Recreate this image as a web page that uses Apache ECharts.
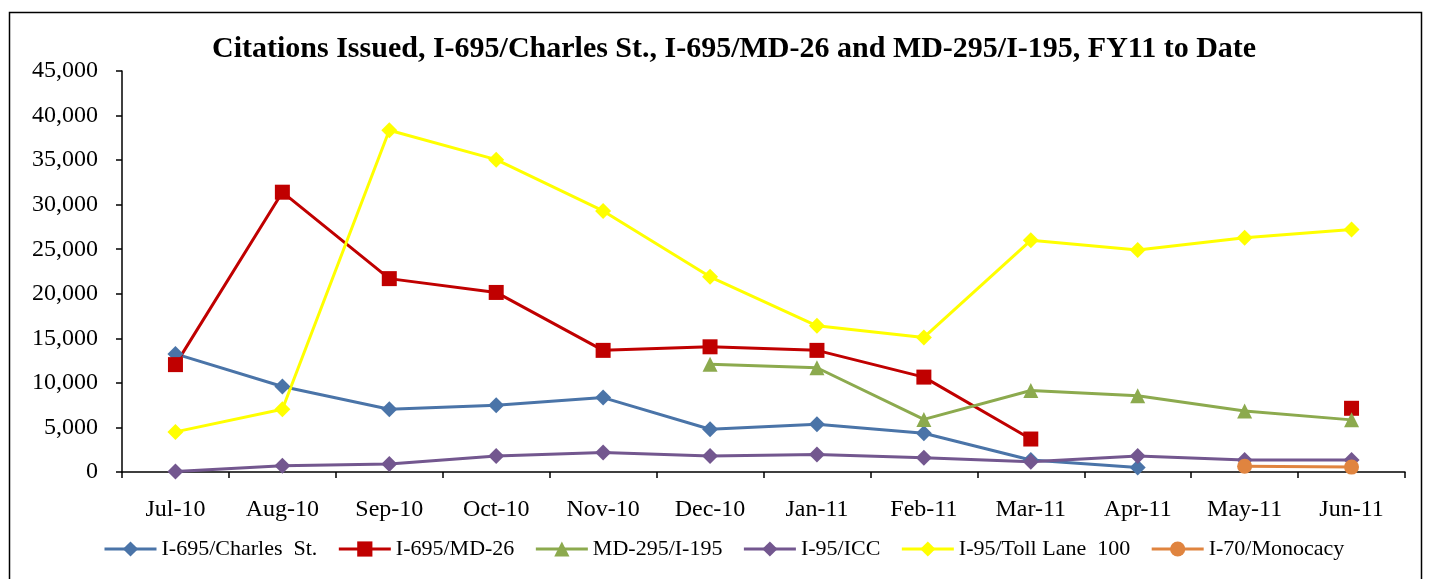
<!DOCTYPE html>
<html>
<head>
<meta charset="utf-8">
<script src="https://cdn.jsdelivr.net/npm/echarts@6/dist/echarts.min.js"></script>
<style>
  html, body { margin: 0; padding: 0; background: #fff; }
  #chart { width: 1445px; height: 579px; }
</style>
</head>
<body>
<div id="chart"></div>
<script>
const months = ['Jul-10', 'Aug-10', 'Sep-10', 'Oct-10', 'Nov-10', 'Dec-10', 'Jan-11', 'Feb-11', 'Mar-11', 'Apr-11', 'May-11', 'Jun-11'];
const charlesSt = [13250, 9600, 7050, 7500, 8350, 4800, 5350, 4350, 1350, 500, null, null];
const md26 = [12050, 31400, 21700, 20150, 13650, 14050, 13650, 10650, 3700, null, null, 7150];
const md295 = [null, null, null, null, null, 12100, 11700, 5900, 9150, 8550, 6850, 5850];
const icc = [50, 700, 900, 1800, 2200, 1800, 1950, 1600, 1150, 1800, 1350, 1350];
const tollLane = [4500, 7050, 38350, 35050, 29300, 21900, 16400, 15100, 26000, 24900, 26300, 27200];
const monocacy = [null, null, null, null, null, null, null, null, null, null, 650, 550];

const font = '"Liberation Serif", "Times New Roman", serif';

function lineSeries(name, data, color, symbol, size) {
  return {
    name, type: 'line', data,
    symbol, symbolSize: size,
    connectNulls: false,
    lineStyle: { color, width: 3 },
    itemStyle: { color },
    emphasis: { disabled: true },
    animation: false,
  };
}

const chart = echarts.init(document.getElementById('chart'));
chart.setOption({
  animation: false,
  title: {
    text: 'Citations Issued, I-695/Charles St., I-695/MD-26 and MD-295/I-195, FY11 to Date',
    left: 207, top: 29,
    textStyle: { fontFamily: font, fontSize: 30, fontWeight: 'bold', color: '#000' },
  },
  graphic: [{
    type: 'rect', left: 7, top: 10,
    shape: { width: 1412, height: 600 },
    style: { fill: 'none', stroke: '#000', lineWidth: 1.5 },
    silent: true,
  }],
  legend: {
    left: 98, top: 533,
    itemWidth: 52, itemHeight: 19, itemGap: 20,
    lineStyle: { width: 3 },
    textStyle: { fontFamily: font, fontSize: 22, color: '#000' },
  },
  grid: { left: 122, right: 40, top: 71, bottom: 107 },
  xAxis: {
    type: 'category', data: months,
    boundaryGap: true,
    axisLine: { lineStyle: { color: '#000', width: 1.5 } },
    axisTick: { show: true, length: 6, lineStyle: { color: '#000', width: 1.5 } },
    axisLabel: { fontFamily: font, fontSize: 24, color: '#000', margin: 26 },
    splitLine: { show: false },
  },
  yAxis: {
    type: 'value', min: 0, max: 45000, interval: 5000,
    axisLine: { show: true, lineStyle: { color: '#000', width: 1.5 } },
    axisTick: { show: true, length: 6, lineStyle: { color: '#000', width: 1.5 } },
    axisLabel: {
      fontFamily: font, fontSize: 24, color: '#000', margin: 24,
      formatter: v => v.toLocaleString('en-US'),
    },
    splitLine: { show: false },
  },
  series: [
    lineSeries('I-695/Charles  St.', charlesSt, '#4A74A8', 'diamond', 16),
    lineSeries('I-695/MD-26', md26, '#C00000', 'rect', 15),
    lineSeries('MD-295/I-195', md295, '#8CAA4E', 'triangle', 15),
    lineSeries('I-95/ICC', icc, '#73578F', 'diamond', 16),
    lineSeries('I-95/Toll Lane  100', tollLane, '#FFFF00', 'diamond', 16),
    lineSeries('I-70/Monocacy', monocacy, '#E0843F', 'circle', 15),
  ],
});
</script>
</body>
</html>
